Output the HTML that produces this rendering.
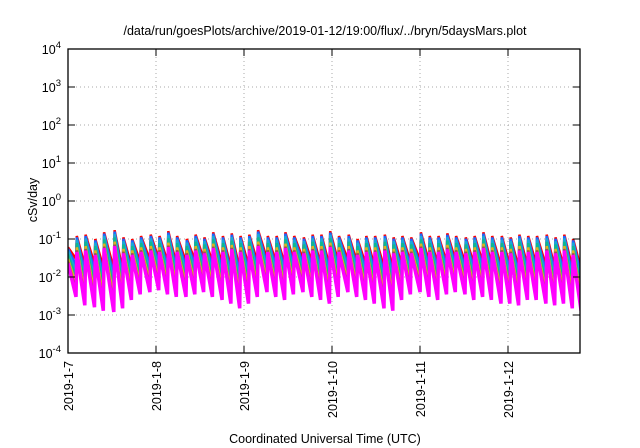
<!DOCTYPE html>
<html><head><meta charset="utf-8"><style>
body{margin:0;background:#fff}
svg{display:block;font-family:"Liberation Sans",sans-serif}
</style></head><body>
<svg id="chart" width="640" height="448" viewBox="0 0 640 448">
<defs><clipPath id="pc"><rect x="68" y="49" width="512" height="304"/></clipPath></defs>
<text x="325" y="35" text-anchor="middle" font-size="12.5">/data/run/goesPlots/archive/2019-01-12/19:00/flux/../bryn/5daysMars.plot</text>
<text x="325" y="443" text-anchor="middle" font-size="12.5">Coordinated Universal Time (UTC)</text>
<text transform="translate(37,200) rotate(-90)" text-anchor="middle" font-size="12.5">cSv/day</text>
<g id="grid"></g>
<g id="series" clip-path="url(#pc)"></g>
<g id="axes"></g>
</svg>
<script>
const xTickLabels = ["2019-1-7","2019-1-8","2019-1-9","2019-1-10","2019-1-11","2019-1-12"];
const yTickExps = [-4,-3,-2,-1,0,1,2,3,4];
const toothStartDays = [0.00,0.10,0.20,0.31,0.41,0.53,0.63,0.73,0.83,0.94,1.04,1.14,1.24,1.35,1.45,1.55,1.65,1.76,1.86,1.96,2.06,2.16,2.27,2.37,2.47,2.57,2.68,2.78,2.88,2.98,3.08,3.19,3.29,3.39,3.49,3.60,3.70,3.80,3.90,4.01,4.11,4.21,4.31,4.41,4.52,4.62,4.72,4.82,4.93,5.03,5.13,5.23,5.33,5.44,5.54,5.64,5.74,5.84];
const peakTop = [0.06,0.12,0.13,0.10,0.15,0.17,0.11,0.10,0.12,0.13,0.12,0.16,0.12,0.10,0.13,0.11,0.15,0.12,0.14,0.12,0.13,0.17,0.12,0.12,0.15,0.12,0.11,0.13,0.13,0.16,0.12,0.13,0.10,0.12,0.12,0.13,0.11,0.12,0.11,0.15,0.12,0.12,0.14,0.12,0.11,0.12,0.15,0.12,0.12,0.11,0.13,0.12,0.12,0.13,0.11,0.13,0.10,0.10];
const troughTop = [0.030,0.020,0.022,0.018,0.016,0.015,0.020,0.025,0.028,0.030,0.025,0.022,0.025,0.028,0.030,0.025,0.022,0.018,0.016,0.020,0.025,0.030,0.025,0.022,0.028,0.030,0.025,0.022,0.020,0.025,0.028,0.025,0.022,0.020,0.018,0.016,0.022,0.025,0.028,0.025,0.022,0.025,0.028,0.025,0.022,0.025,0.022,0.020,0.020,0.018,0.020,0.022,0.020,0.018,0.020,0.018,0.016,0.016];
const troughBottom = [0.0030,0.0018,0.0016,0.0013,0.0012,0.0015,0.0025,0.0035,0.0040,0.0045,0.0035,0.0030,0.0030,0.0035,0.0040,0.0030,0.0025,0.0020,0.0015,0.0020,0.0030,0.0040,0.0030,0.0025,0.0035,0.0040,0.0030,0.0025,0.0020,0.0030,0.0040,0.0030,0.0025,0.0020,0.0015,0.0013,0.0025,0.0035,0.0040,0.0030,0.0025,0.0035,0.0040,0.0035,0.0025,0.0030,0.0025,0.0020,0.0020,0.0018,0.0025,0.0025,0.0020,0.0018,0.0020,0.0015,0.0013,0.0013];
const seriesColors = ["#ff0000","#1e66ff","#18a8d8","#10b890","#e0b020","#a04a60","#ff00ff"];
const seriesPeakFactor = [1.0,0.92,0.8,0.65,0.5,0.42,0.38];

const L=68,R=580,T=49,B=353,dayPx=88;
const xS=d=>L+d*dayPx;
const yS=v=>T+(4-Math.log10(v))*(B-T)/8;
const ns="http://www.w3.org/2000/svg";
const grid=document.getElementById('grid'),axes=document.getElementById('axes'),ser=document.getElementById('series');
function mk(tag,attrs,parent){const e=document.createElementNS(ns,tag);for(const k in attrs)e.setAttribute(k,attrs[k]);parent.appendChild(e);return e;}

yTickExps.forEach((p,i)=>{
  const y=yS(Math.pow(10,p));
  if(p>-4&&p<4){const g=mk('line',{x1:L,x2:R,y1:y,y2:y,stroke:'#aaa','stroke-width':1,'stroke-dasharray':'1,3'},grid);
  
  }
  const t1=mk('line',{x1:L,x2:L+7,y1:y,y2:y,stroke:'#000','stroke-width':1},axes);
  
  
  const t2=mk('line',{x1:R-7,x2:R,y1:y,y2:y,stroke:'#000','stroke-width':1},axes);
  
  
  const lab=mk('text',{x:L-7,y:y+5,'text-anchor':'end','font-size':12.5},axes);
  
  
  lab.appendChild(document.createTextNode('10'));
  const sup=mk('tspan',{dy:-6,'font-size':9.5},lab);sup.textContent=String(p);
});
xTickLabels.forEach((s,i)=>{
  const x=xS(i);
  if(i>0){const g=mk('line',{x1:x,x2:x,y1:T,y2:B,stroke:'#aaa','stroke-width':1,'stroke-dasharray':'1,3'},grid);
  
  }
  const t1=mk('line',{x1:x,x2:x,y1:B,y2:B-7,stroke:'#000','stroke-width':1},axes);
  
  
  const t2=mk('line',{x1:x,x2:x,y1:T,y2:T+7,stroke:'#000','stroke-width':1},axes);
  
  
  const lab=mk('text',{transform:`translate(${x+5},${B+8}) rotate(-90)`,'text-anchor':'end','font-size':12.5},axes);
  
  
  lab.textContent=s;
});
const frame=mk('rect',{x:L,y:T,width:R-L,height:B-T,fill:'none',stroke:'#000','stroke-width':1.3},axes);



const n=seriesColors.length;
seriesColors.forEach((c,k)=>{
  let d='';
  for(let i=0;i<toothStartDays.length-1;i++){
    const f=k/(n-1);
    const pk=peakTop[i]*seriesPeakFactor[k];
    const tr=Math.pow(10,Math.log10(troughTop[i])*(1-f)+Math.log10(troughBottom[i])*f);
    const x0=xS(toothStartDays[i]),x1=xS(toothStartDays[i+1]);
    d+=(i===0?'M':'L')+x0.toFixed(1)+','+yS(pk).toFixed(1)+'L'+(x1-0.8).toFixed(1)+','+yS(tr).toFixed(1);
  }
  const p=mk('path',{d:d,fill:'none',stroke:c,'stroke-width':k===n-1?3.5:2.5,'stroke-linejoin':'miter'},ser);
  
  
});
</script>
</body></html>
